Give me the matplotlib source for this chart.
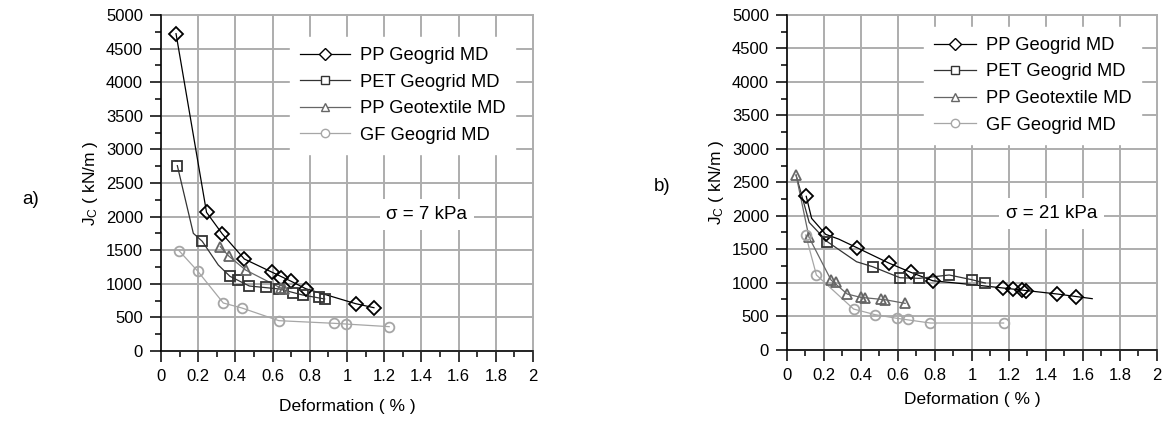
import numpy as np
import matplotlib
matplotlib.use("Agg")
import matplotlib.pyplot as plt
from matplotlib.ticker import MultipleLocator

plt.rcParams["font.family"] = ["Liberation Sans", "DejaVu Sans"]
plt.rcParams["mathtext.fontset"] = "custom"
plt.rcParams["mathtext.rm"] = "Liberation Sans"
plt.rcParams["mathtext.it"] = "Liberation Sans"

labels = ["PP Geogrid MD", "PET Geogrid MD", "PP Geotextile MD", "GF Geogrid MD"]
colors = ["#000000", "#333333", "#666666", "#a6a6a6"]
markers = ["D", "s", "^", "o"]

# ---- panel a) sigma = 7 kPa : measured points
a_pp_x = [0.081, 0.245, 0.33, 0.448, 0.598, 0.645, 0.70, 0.778, 1.047, 1.145]
a_pp_y = [4722, 2063, 1741, 1369, 1171, 1091, 1037, 927, 704, 644]
a_pet_x = [0.088, 0.222, 0.371, 0.416, 0.475, 0.565, 0.636, 0.711, 0.762, 0.851, 0.88]
a_pet_y = [2758, 1632, 1111, 1057, 967, 948, 923, 863, 833, 799, 774]
a_geo_x = [0.319, 0.364, 0.455, 0.645, 0.66]
a_geo_y = [1552, 1414, 1205, 933, 915]
a_gf_x = [0.097, 0.197, 0.335, 0.435, 0.634, 0.93, 0.993, 1.227]
a_gf_y = [1493, 1190, 714, 640, 451, 412, 402, 362]

# panel a) fitted curves
a_pp_cx = [0.081, 0.245, 0.33, 0.448, 0.598, 0.70, 0.778, 1.047, 1.145]
a_pp_cy = [4722, 2063, 1741, 1369, 1171, 1037, 927, 704, 644]
a_pet_cx = [0.088, 0.174, 0.222, 0.308, 0.371, 0.475, 0.636, 0.762, 0.88]
a_pet_cy = [2758, 1751, 1632, 1280, 1111, 967, 923, 833, 774]
a_geo_cx = [0.319, 0.364, 0.455, 0.66]
a_geo_cy = [1552, 1414, 1205, 915]
a_gf_cx = [0.097, 0.197, 0.335, 0.435, 0.634, 0.93, 1.227]
a_gf_cy = [1493, 1190, 714, 640, 451, 412, 362]

# ---- panel b) sigma = 21 kPa : measured points
b_pp_x = [0.104, 0.209, 0.378, 0.55, 0.669, 0.788, 1.168, 1.22, 1.27, 1.29, 1.46, 1.56]
b_pp_y = [2290, 1722, 1522, 1293, 1154, 1028, 924, 904, 890, 880, 830, 785]
b_pet_x = [0.218, 0.463, 0.611, 0.715, 0.877, 0.998, 1.072]
b_pet_y = [1612, 1238, 1073, 1064, 1114, 1044, 994]
b_geo_x = [0.049, 0.119, 0.238, 0.265, 0.326, 0.398, 0.423, 0.51, 0.531, 0.639]
b_geo_y = [2608, 1677, 1039, 1004, 829, 780, 765, 759, 744, 690]
b_gf_x = [0.101, 0.159, 0.36, 0.476, 0.595, 0.656, 0.775, 1.171]
b_gf_y = [1712, 1114, 605, 521, 466, 456, 396, 396]

# panel b) fitted curves
b_pp_cx = [0.104, 0.133, 0.209, 0.28, 0.378, 0.55, 0.669, 0.788, 1.0, 1.2, 1.46, 1.65]
b_pp_cy = [2290, 1961, 1722, 1650, 1522, 1293, 1154, 1028, 970, 910, 830, 760]
b_pet_cx = [0.049, 0.12, 0.218, 0.376, 0.463, 0.611, 0.715, 0.877, 0.998, 1.072]
b_pet_cy = [2608, 1900, 1612, 1312, 1238, 1073, 1064, 1114, 1044, 994]
b_geo_cx = [0.049, 0.119, 0.238, 0.326, 0.398, 0.531, 0.639]
b_geo_cy = [2608, 1677, 1039, 829, 780, 744, 690]
b_gf_cx = [0.101, 0.159, 0.36, 0.476, 0.595, 0.775, 1.171]
b_gf_cy = [1712, 1114, 605, 521, 466, 396, 396]

panels = [
    dict(pos=[0.1384, 0.1663, 0.3199, 0.7981], tag="a)", tag_xy=(0.019, 0.525),
         sigma="σ = 7 kPa", leg_anchor=(0.322, 0.962), handlelength=2.7, xpad=11,
         pts=[(a_pp_x, a_pp_y), (a_pet_x, a_pet_y), (a_geo_x, a_geo_y), (a_gf_x, a_gf_y)],
         crv=[(a_pp_cx, a_pp_cy), (a_pet_cx, a_pet_cy), (a_geo_cx, a_geo_cy), (a_gf_cx, a_gf_cy)]),
    dict(pos=[0.6767, 0.1698, 0.3181, 0.7945], tag="b)", tag_xy=(0.562, 0.558),
         sigma="σ = 21 kPa", leg_anchor=(0.346, 0.992), handlelength=2.25, xpad=7,
         pts=[(b_pp_x, b_pp_y), (b_pet_x, b_pet_y), (b_geo_x, b_geo_y), (b_gf_x, b_gf_y)],
         crv=[(b_pp_cx, b_pp_cy), (b_pet_cx, b_pet_cy), (b_geo_cx, b_geo_cy), (b_gf_cx, b_gf_cy)]),
]

fig = plt.figure(figsize=(11.63, 4.21), dpi=100)

for p in panels:
    ax = fig.add_axes(p["pos"])
    ax.set_xlim(0, 2)
    ax.set_ylim(0, 5000)
    ax.xaxis.set_major_locator(MultipleLocator(0.2))
    ax.xaxis.set_minor_locator(MultipleLocator(0.1))
    ax.yaxis.set_major_locator(MultipleLocator(500))
    ax.yaxis.set_minor_locator(MultipleLocator(250))
    ax.set_xticks(np.arange(0, 2.01, 0.2))
    ax.set_xticklabels(["0", "0.2", "0.4", "0.6", "0.8", "1", "1.2", "1.4", "1.6", "1.8", "2"])
    ax.grid(True, which="major", color="#adadad", linewidth=1.4)
    for gl in ax.get_xgridlines() + ax.get_ygridlines():
        gl.set_clip_on(False)
    ax.set_axisbelow(True)
    ax.spines["top"].set_visible(False)
    ax.spines["right"].set_visible(False)
    ax.spines["left"].set_linewidth(1.1)
    ax.spines["bottom"].set_linewidth(1.1)
    ax.tick_params(which="major", direction="out", length=8, width=1.1, labelsize=12, pad=5)
    ax.tick_params(which="minor", direction="out", length=4, width=1.1)
    ax.set_xlabel("Deformation ( % )", fontsize=12.5, labelpad=p["xpad"])
    ax.set_ylabel("J$_\\mathregular{C}$ ( kN/m )", fontsize=12.5, labelpad=4)

    for (cx, cy), col in zip(p["crv"], colors):
        ax.plot(cx, cy, color=col, linewidth=0.9, zorder=3)
    handles = []
    for (x, y), col, mk, lab in zip(p["pts"], colors, markers, labels):
        ms = 7.5 if mk == "D" else (7.5 if mk == "^" else 7)
        ax.plot(x, y, linestyle="none", marker=mk, markersize=ms, markerfacecolor="none",
                markeredgecolor=col, markeredgewidth=1.3, zorder=4)
        h, = ax.plot([], [], color=col, linewidth=0.9, marker=mk, markersize=6,
                     markerfacecolor="white", markeredgecolor=col, markeredgewidth=1.0, label=lab)
        handles.append(h)

    leg = ax.legend(handles=handles, loc="upper left", bbox_to_anchor=p["leg_anchor"],
                    fontsize=13.2, frameon=True, fancybox=False, framealpha=1,
                    edgecolor="white", handlelength=p["handlelength"], handletextpad=0.55,
                    labelspacing=0.52, borderpad=0.55)
    leg.set_zorder(5)

    ax.text(1.43, 2030, p["sigma"], fontsize=13.5, ha="center", va="center", zorder=5,
            bbox=dict(facecolor="white", edgecolor="none", pad=5))
    fig.text(p["tag_xy"][0], p["tag_xy"][1], p["tag"], fontsize=13.5, ha="left", va="center")

fig.savefig("out.png", dpi=100)
